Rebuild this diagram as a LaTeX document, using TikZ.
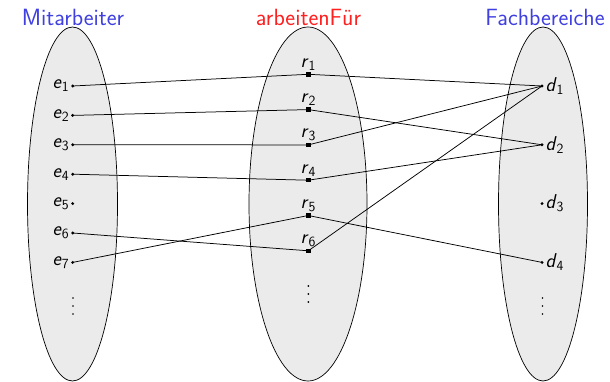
\documentclass[tikz,border=0pt]{standalone}
\usetikzlibrary{calc}
\definecolor{tblue}{RGB}{64,64,224}
\definecolor{tred}{RGB}{255,32,32}
\definecolor{setfill}{RGB}{235,235,235}
\newcommand{\sv}[2]{\textit{#1}\textsubscript{#2}}
\begin{document}
\begin{tikzpicture}[x=1pt,y=-1pt,
  font=\sffamily\fontsize{20}{24}\selectfont,
  title/.style={anchor=base,font=\sffamily\fontsize{23.5}{28}\selectfont},
  edot/.style={circle,fill=black,inner sep=0pt,minimum size=3.2pt},
  vdot/.style={circle,fill=black,inner sep=0pt,minimum size=1.9pt},
  rdot/.style={rectangle,fill=black,inner sep=0pt,minimum size=4.5pt},
  link/.style={line width=0.75pt},
  elab/.style={anchor=east,inner sep=1.5pt},
  rlab/.style={anchor=south,inner sep=1pt},
  dlab/.style={anchor=west,inner sep=1.5pt}]
\useasboundingbox (0,0) rectangle (610,382);
% sets
\path[draw=black,line width=0.7pt,fill=setfill] (72.5,204) ellipse [x radius=45, y radius=177];
\path[draw=black,line width=0.7pt,fill=setfill] (308,204) ellipse [x radius=59, y radius=177];
\path[draw=black,line width=0.7pt,fill=setfill] (543,204) ellipse [x radius=44.5, y radius=177];
% titles
\node[title,text=tblue] (tM) at (73,26) {Mitarbeiter};
\node[title,text=tred] (tA) at (308.5,26) {arbeitenFür};
\node[title,text=tblue] (tF) at (545,26) {Fachbereiche};
% employees
\foreach \i/\y in {1/86,2/115.4,3/144.8,4/174.2,5/203.6,6/233,7/262.4}{
  \node[edot] (e\i) at (72.7,\y) {};
  \node[elab] (le\i) at (e\i.west) {\sv{e}{\i}};
}
\foreach \k/\y in {1/298,2/306,3/314}{\node[vdot] (ve\k) at (73,\y) {};}
% relationships
\foreach \i/\y in {1/74.3,2/109.6,3/144.9,4/180.2,5/215.5,6/250.8}{
  \node[rdot] (r\i) at (308.3,\y) {};
  \node[rlab] (lr\i) at (r\i.north) {\sv{r}{\i}};
}
\foreach \k/\y in {1/286,2/294,3/302}{\node[vdot] (vr\k) at (308.3,\y) {};}
% departments
\foreach \i/\y in {1/86,2/144.8,3/203.6,4/262.4}{
  \node[edot] (d\i) at (542,\y) {};
  \node[dlab] (ld\i) at (d\i.east) {\sv{d}{\i}};
}
\foreach \k/\y in {1/298,2/306,3/314}{\node[vdot] (vd\k) at (542.5,\y) {};}
% links
\draw[link] (e1.center) -- (r1.center) -- (d1.center);
\draw[link] (e2.center) -- (r2.center) -- (d2.center);
\draw[link] (e3.center) -- (r3.center) -- (d1.center);
\draw[link] (e4.center) -- (r4.center) -- (d2.center);
\draw[link] (e6.center) -- (r6.center) -- (d1.center);
\draw[link] (e7.center) -- (r5.center) -- (d4.center);
\end{tikzpicture}
\end{document}
